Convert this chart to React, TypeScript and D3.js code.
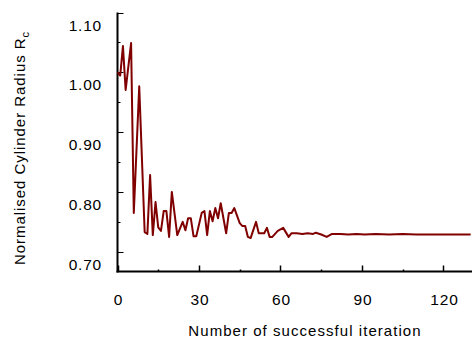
import React, { useRef, useEffect } from 'react';
import * as d3 from 'd3';

// iteration number of each vertex and normalised radius at it
const iterations = [
  0, 1, 2, 3, 5, 6, 8, 10, 11, 12, 13, 14, 15, 16, 17, 18, 19, 20, 22, 24, 25, 26, 27, 28, 29,
  31, 32, 33, 34, 35, 36, 37, 38, 40, 41, 42, 43, 45, 46, 47, 48, 49, 51, 52, 54, 55, 56, 57,
  59, 61, 63, 64, 66, 68, 70, 72, 73, 75, 77, 79, 82, 85, 88, 91, 95, 100, 105, 110, 130,
];
const radius = [
  1.0, 0.995, 1.044, 0.971, 1.049, 0.766, 0.977, 0.734, 0.731, 0.829, 0.729, 0.784, 0.742,
  0.736, 0.769, 0.769, 0.726, 0.801, 0.729, 0.751, 0.737, 0.757, 0.757, 0.727, 0.727, 0.766,
  0.769, 0.729, 0.769, 0.752, 0.774, 0.757, 0.782, 0.732, 0.766, 0.766, 0.774, 0.749, 0.744,
  0.744, 0.726, 0.724, 0.751, 0.732, 0.732, 0.741, 0.726, 0.726, 0.736, 0.741, 0.726, 0.732,
  0.732, 0.731, 0.732, 0.731, 0.733, 0.73, 0.726, 0.731, 0.731, 0.73, 0.731, 0.73, 0.731,
  0.73, 0.731, 0.73, 0.73,
];
const xTicks = [0, 30, 60, 90, 120];
const yTicks = [0.7, 0.8, 0.9, 1.0, 1.1];

const W = 472;
const H = 339;
const FONT = '"Liberation Sans", Arial, sans-serif';

const App: React.FC = () => {
  const svgRef = useRef<SVGSVGElement>(null);

  useEffect(() => {
    const svg = d3.select(svgRef.current);
    svg.selectAll('*').remove();

    const x = d3.scaleLinear().domain([0, 130.5]).range([117.5, 472]);
    const y = d3.scaleLinear().domain([0.6683, 1.1]).range([271.5, 12.5]);

    const data = iterations.map((it, i) => ({ it, v: radius[i] }));

    // axes lines
    svg
      .append('line')
      .attr('x1', x(0))
      .attr('x2', x(0))
      .attr('y1', y(1.1))
      .attr('y2', y.range()[0] + 1)
      .attr('stroke', '#000')
      .attr('stroke-width', 2);
    svg
      .append('line')
      .attr('x1', x(0) - 1)
      .attr('x2', W)
      .attr('y1', y.range()[0])
      .attr('y2', y.range()[0])
      .attr('stroke', '#000')
      .attr('stroke-width', 2);

    // y ticks, major and minor, pointing inward
    d3.range(0.7, 1.1001, 0.05).forEach((t, i) => {
      svg
        .append('line')
        .attr('x1', x(0))
        .attr('x2', x(0) + (i % 2 === 0 ? 6 : 3))
        .attr('y1', Math.round(y(t)) + 0.5)
        .attr('y2', Math.round(y(t)) + 0.5)
        .attr('stroke', '#000')
        .attr('stroke-width', 1);
    });
    svg
      .selectAll('.ylab')
      .data(yTicks)
      .enter()
      .append('text')
      .attr('x', 102)
      .attr('y', d => y(d) + 18)
      .attr('text-anchor', 'end')
      .style('font-family', FONT)
      .style('font-size', '15.5px')
      .style('letter-spacing', '0.8px')
      .text(d => d.toFixed(2));

    // x ticks
    d3.range(0, 130, 15).forEach((t, i) => {
      svg
        .append('line')
        .attr('x1', Math.round(x(t)) + 0.5)
        .attr('x2', Math.round(x(t)) + 0.5)
        .attr('y1', y.range()[0])
        .attr('y2', y.range()[0] - (i % 2 === 0 ? 6 : 2))
        .attr('stroke', '#000')
        .attr('stroke-width', 1.5);
    });
    svg
      .selectAll('.xlab')
      .data(xTicks)
      .enter()
      .append('text')
      .attr('x', d => x(d) + 1)
      .attr('y', 305)
      .attr('text-anchor', 'middle')
      .style('font-family', FONT)
      .style('font-size', '15.5px')
      .style('letter-spacing', '0.8px')
      .text(d => d);

    // titles
    svg
      .append('text')
      .attr('x', 305)
      .attr('y', 336)
      .attr('text-anchor', 'middle')
      .style('font-family', FONT)
      .style('font-size', '15px')
      .style('letter-spacing', '1.05px')
      .text('Number of successful iteration');

    const yt = svg
      .append('text')
      .attr('transform', 'translate(25, 148) rotate(-90)')
      .attr('text-anchor', 'middle')
      .style('font-family', FONT)
      .style('font-size', '15px')
      .style('letter-spacing', '0.95px');
    yt.append('tspan').text('Normalised Cylinder Radius R');
    yt.append('tspan').attr('dy', 4).style('font-size', '11px').text('c');

    // the series
    const line = d3
      .line<{ it: number; v: number }>()
      .x(d => x(d.it))
      .y(d => y(d.v));
    svg
      .append('path')
      .datum(data)
      .attr('d', line)
      .attr('fill', 'none')
      .attr('stroke', '#800000')
      .attr('stroke-width', 2)
      .attr('stroke-linejoin', 'round');
  }, []);

  return (
    <svg
      ref={svgRef}
      width={W}
      height={H}
      style={{ position: 'absolute', left: 0, top: 0, background: '#fff' }}
    />
  );
};

export default App;
